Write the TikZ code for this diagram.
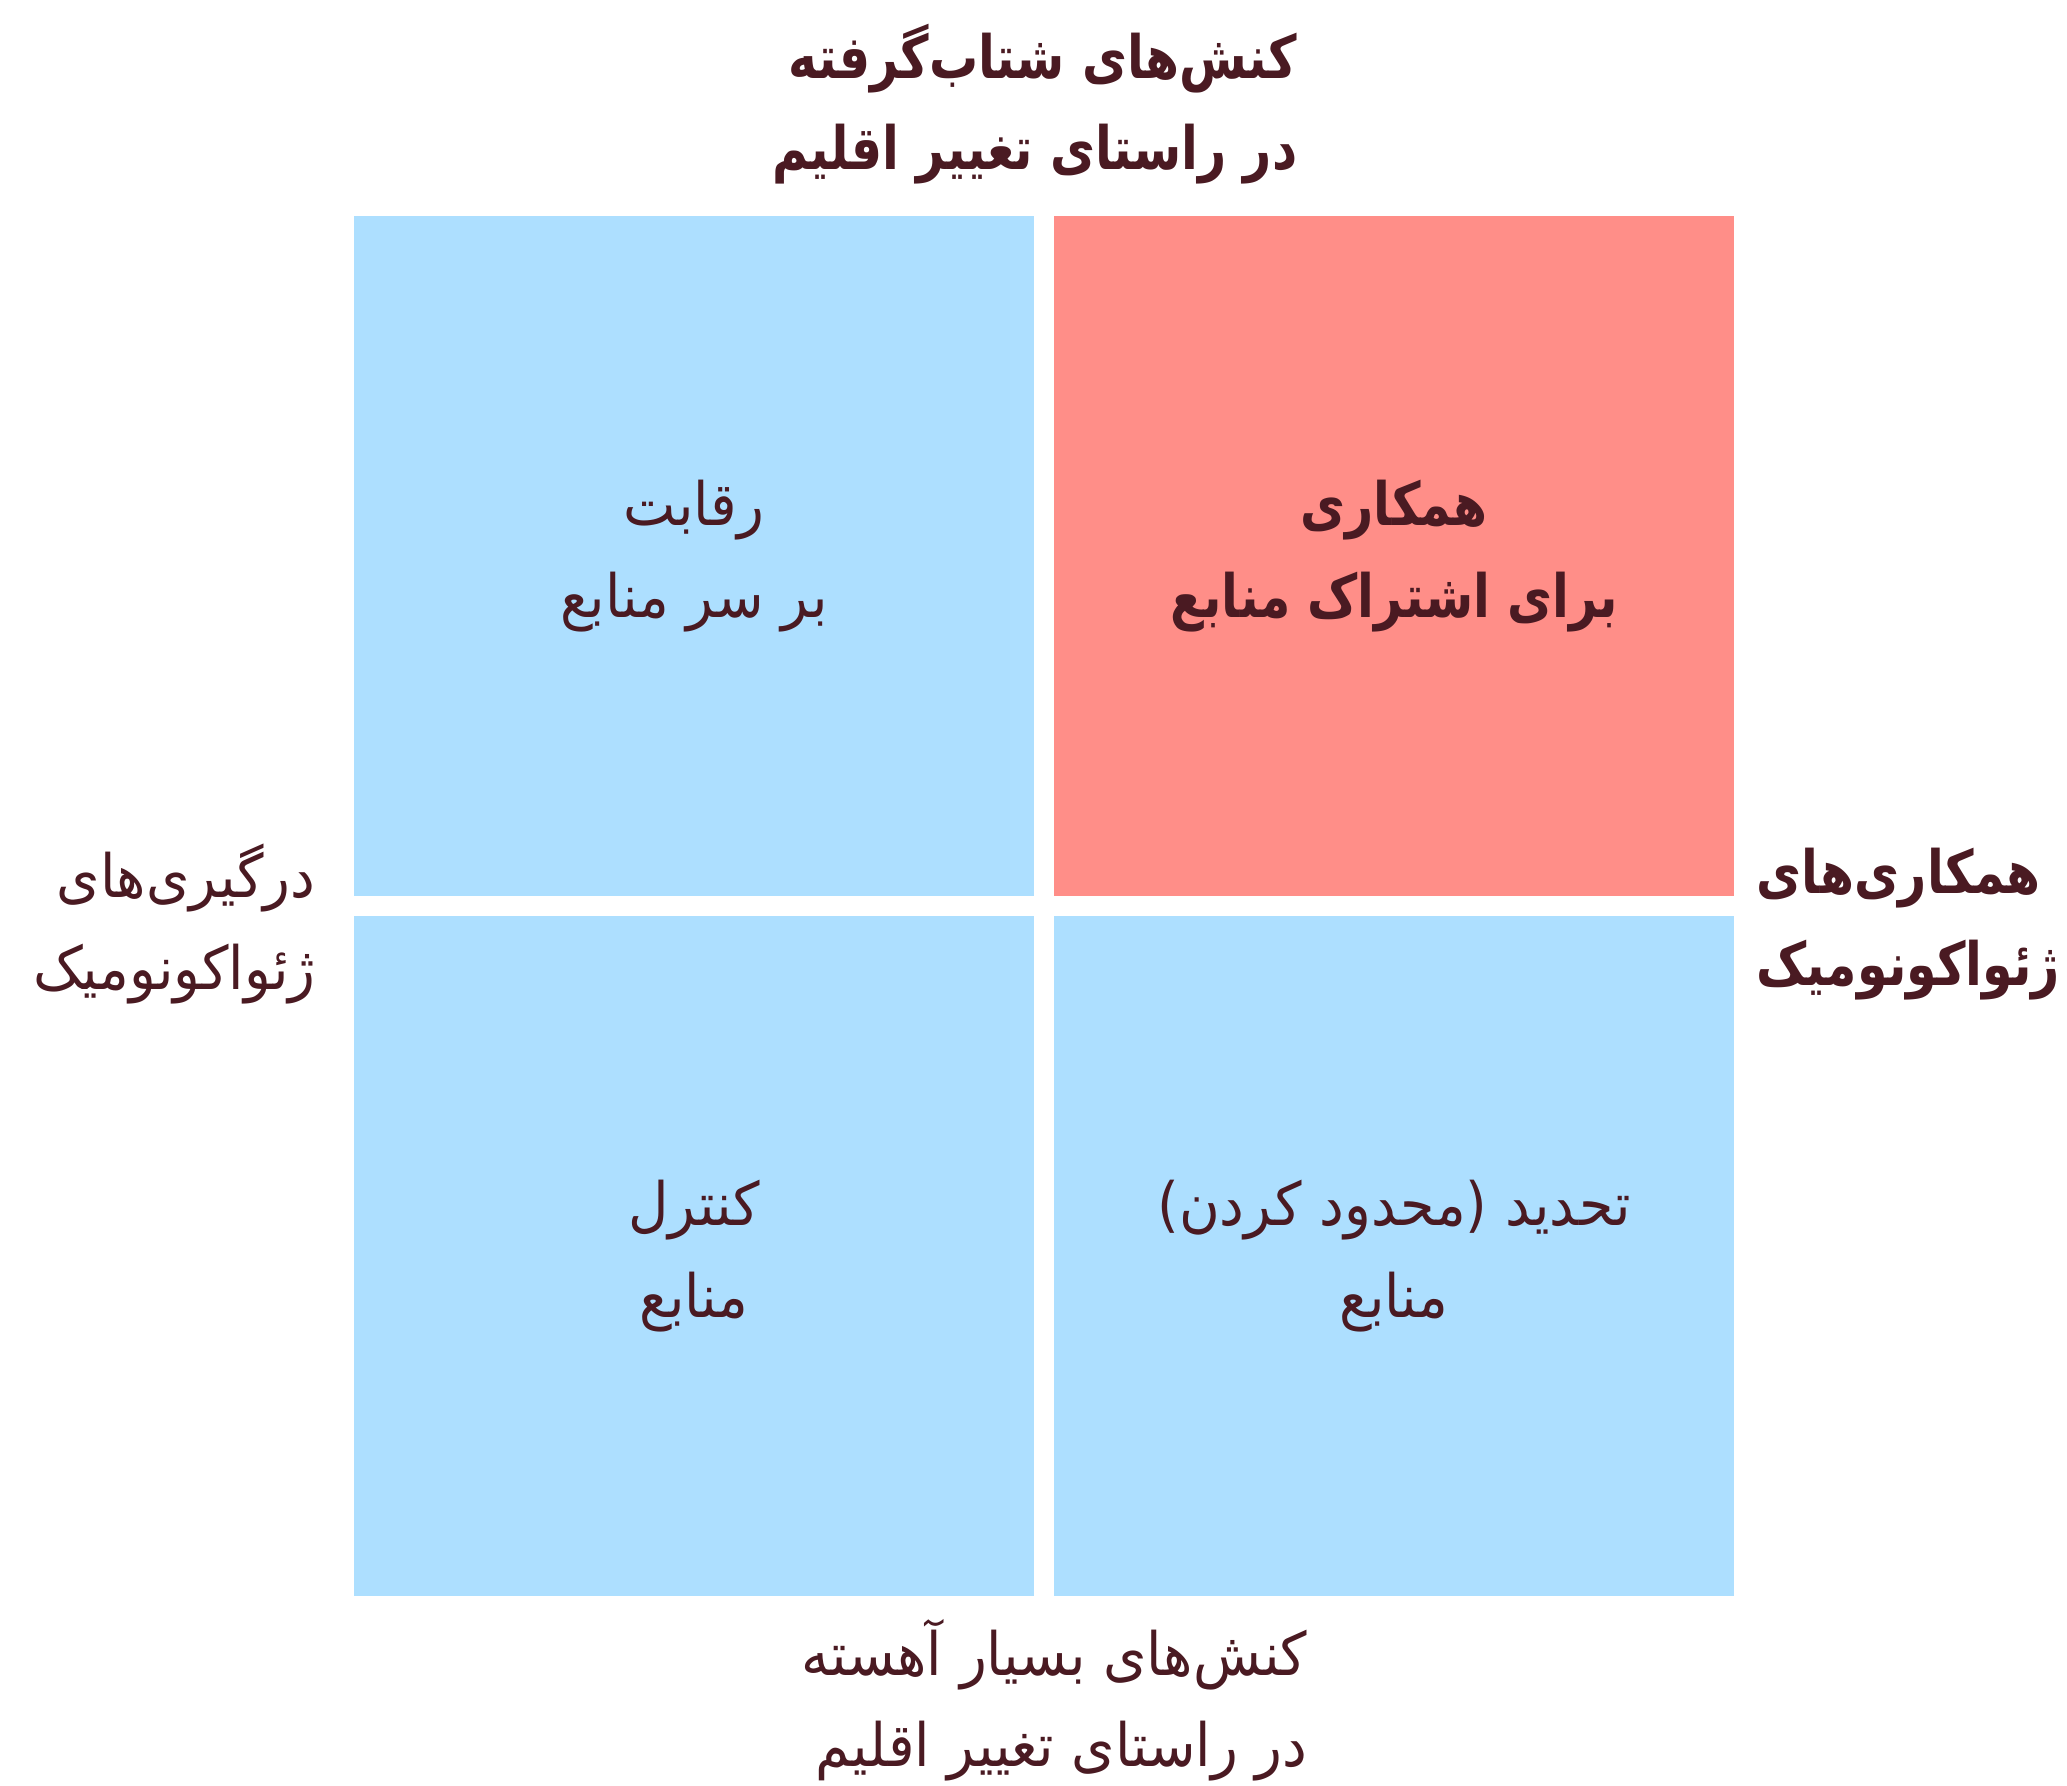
\documentclass[tikz,border=0pt]{standalone}
\usepackage{fontspec}
\newfontfamily\arabicfont[Script=Arabic,FakeStretch=0.93]{DejaVu Sans}
\newfontfamily\arabicbold[Script=Arabic,FakeStretch=0.82]{DejaVu Sans Bold}
\TeXXeTstate=1
\definecolor{quadblue}{HTML}{ADDFFF}
\definecolor{quadred}{HTML}{FF8E88}
\definecolor{inkred}{HTML}{4A1A22}

\begin{document}
\begin{tikzpicture}[x=0.01cm, y=-0.01cm,
        quad/.style = {minimum width=6.8cm, minimum height=6.8cm, inner sep=0pt, align=center,
                       text=inkred, font=\arabicfont\fontsize{17}{26}\selectfont},
        axistext/.style = {inner sep=0pt, text=inkred, font=\arabicfont\fontsize{17}{26}\selectfont},
        boldtext/.style = {font=\arabicbold\fontsize{17}{26}\selectfont}]
                \useasboundingbox (0,0) rectangle (2067,1785);

                % Quadrants
                \node [quad, fill=quadblue] (rivalry) at (694,556)
                    {\beginR رقابت\endR\\\beginR بر سر منابع\endR};
                \node [quad, fill=quadred, boldtext] (sharing) at (1394,556)
                    {\beginR همکاری\endR\\\beginR برای اشتراک منابع\endR};
                \node [quad, fill=quadblue] (control) at (694,1256)
                    {\beginR کنترل\endR\\\beginR منابع\endR};
                \node [quad, fill=quadblue] (restrict) at (1394,1256)
                    {\beginR تحدید (محدود کردن)\endR\\\beginR منابع\endR};

                % Axis texts
                \node [axistext, boldtext, align=right, anchor=east] (fast) at (1298,104)
                    {\beginR کنش^^^^200cهای شتاب^^^^200cگرفته\endR\\\beginR در راستای تغییر اقلیم\endR};
                \node [axistext, align=right, anchor=east] (slow) at (1308,1700)
                    {\beginR کنش^^^^200cهای بسیار آهسته\endR\\\beginR در راستای تغییر اقلیم\endR};
                \node [axistext, align=right, anchor=east] (conflict) at (316,924)
                    {\beginR درگیری^^^^200cهای\endR\\\beginR ژئواکونومیک\endR};
                \node [axistext, boldtext, align=left, anchor=west] (coop) at (1756,924)
                    {\beginR همکاری^^^^200cهای\endR\\\beginR ژئواکونومیک\endR};
\end{tikzpicture}
\end{document}
